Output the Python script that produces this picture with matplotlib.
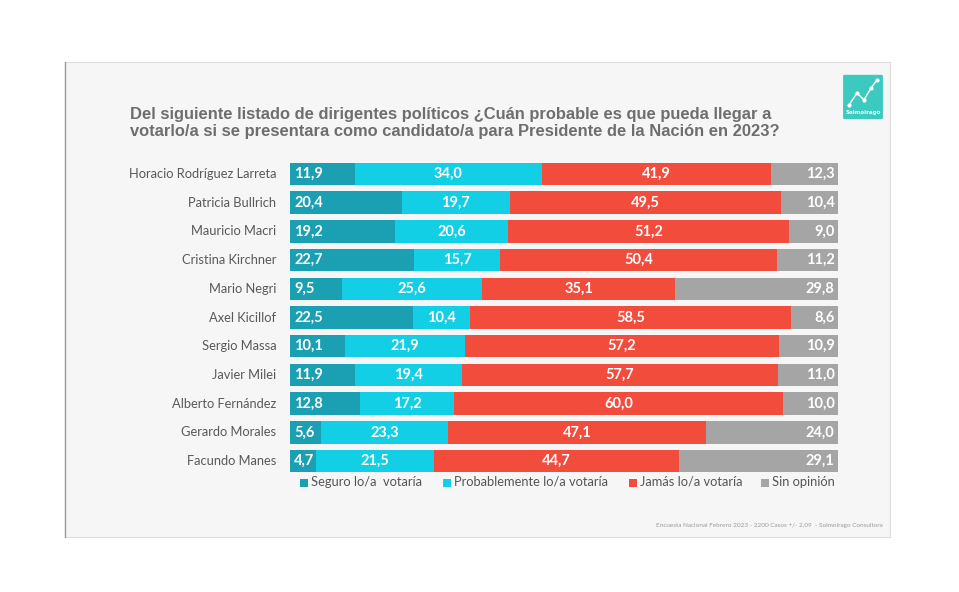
import matplotlib
matplotlib.use("Agg")
import matplotlib.pyplot as plt
from matplotlib.patches import Rectangle, FancyBboxPatch
import numpy as np

names = ["Horacio Rodríguez Larreta", "Patricia Bullrich", "Mauricio Macri",
         "Cristina Kirchner", "Mario Negri", "Axel Kicillof", "Sergio Massa",
         "Javier Milei", "Alberto Fernández", "Gerardo Morales", "Facundo Manes"]
seguro = [11.9, 20.4, 19.2, 22.7, 9.5, 22.5, 10.1, 11.9, 12.8, 5.6, 4.7]
probable = [34.0, 19.7, 20.6, 15.7, 25.6, 10.4, 21.9, 19.4, 17.2, 23.3, 21.5]
jamas = [41.9, 49.5, 51.2, 50.4, 35.1, 58.5, 57.2, 57.7, 60.0, 47.1, 44.7]
sin_op = [12.3, 10.4, 9.0, 11.2, 29.8, 8.6, 10.9, 11.0, 10.0, 24.0, 29.1]
series_names = ["Seguro lo/a  votaría", "Probablemente lo/a votaría",
                "Jamás lo/a votaría", "Sin opinión"]
title = ("Del siguiente listado de dirigentes políticos ¿Cuán probable es que pueda llegar a\n"
         "votarlo/a si se presentara como candidato/a para Presidente de la Nación en 2023?")
footer = "Encuesta Nacional Febrero 2023 - 2200 Casos +/- 2,09  - Solmoirago Consultora"

colors = ["#1b9fb2", "#12cfe6", "#f24c3d", "#a5a5a5"]

W, H = 959, 592
fig = plt.figure(figsize=(W / 100, H / 100), dpi=100)
fig.patch.set_facecolor("white")

def fx(x): return x / W
def fy(y): return 1 - y / H

# panel
fig.add_artist(Rectangle((fx(65), fy(537)), fx(890) - fx(65), fy(62) - fy(537),
                         transform=fig.transFigure, facecolor="#f6f6f6",
                         edgecolor="#dddddd", linewidth=0.8, zorder=0))
fig.add_artist(plt.Line2D([fx(65), fx(65)], [fy(62), fy(537)], transform=fig.transFigure,
                          color="#9a9a9a", linewidth=1.0, zorder=1))

# logo
fig.add_artist(FancyBboxPatch((fx(845), fy(118)), fx(881) - fx(845), fy(76) - fy(118),
                              boxstyle="round,pad=0.002", transform=fig.transFigure,
                              facecolor="#3cc9bf", edgecolor="none", zorder=2))
lx = [849, 857, 864, 871, 877]
ly = [105, 93, 100, 88, 80]
fig.add_artist(plt.Line2D([fx(v) for v in lx], [fy(v) for v in ly], transform=fig.transFigure,
                          color="white", linewidth=1.0, marker="o", markersize=2, zorder=3))
fig.text(fx(863), fy(112), "Solmoirago", color="white", fontsize=4, fontweight="bold",
         ha="center", va="center", family="DejaVu Sans", zorder=3)

# title
fig.text(fx(130), fy(123), title, color="#6e6e6e", fontsize=11.9, fontweight="bold",
         family="Liberation Sans", ha="left", va="center", linespacing=1.2)

# axes
top, bottom = 159.5, 475.5
ax = fig.add_axes([fx(290), fy(bottom), fx(838) - fx(290), fy(top) - fy(bottom)])
ax.set_facecolor("none")
y = np.arange(len(names))
data = [seguro, probable, jamas, sin_op]
left = np.zeros(len(names))
bh = 0.78
for si, (vals, c) in enumerate(zip(data, colors)):
    vals = np.array(vals)
    ax.barh(y, vals, left=left, height=bh, color=c, edgecolor="none")
    for i, v in enumerate(vals):
        lbl = f"{v:.1f}".replace(".", ",")
        if si == 0:
            ax.text(left[i] + 0.8, y[i], lbl, ha="left", va="center", color="white",
                    fontsize=10.5, fontweight="bold", family="Lato")
        elif si == 3:
            ax.text(left[i] + v - 0.6, y[i], lbl, ha="right", va="center", color="white",
                    fontsize=10.5, fontweight="bold", family="Lato")
        else:
            ax.text(left[i] + v / 2, y[i], lbl, ha="center", va="center", color="white",
                    fontsize=10.5, fontweight="bold", family="Lato")
    left = left + vals
ax.set_xlim(0, 100)
ax.set_ylim(len(names) - 0.5, -0.5)
ax.axis("off")
for i, n in enumerate(names):
    ax.text(-2.5, y[i], n, ha="right", va="center", color="#595959", fontsize=9.3, family="Lato")

# legend
leg_x = [300, 443, 629, 761]
for lx0, c, s in zip(leg_x, colors, series_names):
    fig.add_artist(Rectangle((fx(lx0), fy(487)), fx(8), fy(0) - fy(8), transform=fig.transFigure,
                             facecolor=c, edgecolor="none"))
    fig.text(fx(lx0 + 11), fy(482), s, color="#555555", fontsize=9.3, family="Lato",
             ha="left", va="center")

fig.text(fx(883), fy(525), footer, color="#9a9a9a", fontsize=4.6, family="Lato",
         ha="right", va="center")

fig.savefig("out.png", dpi=100, facecolor="white")
